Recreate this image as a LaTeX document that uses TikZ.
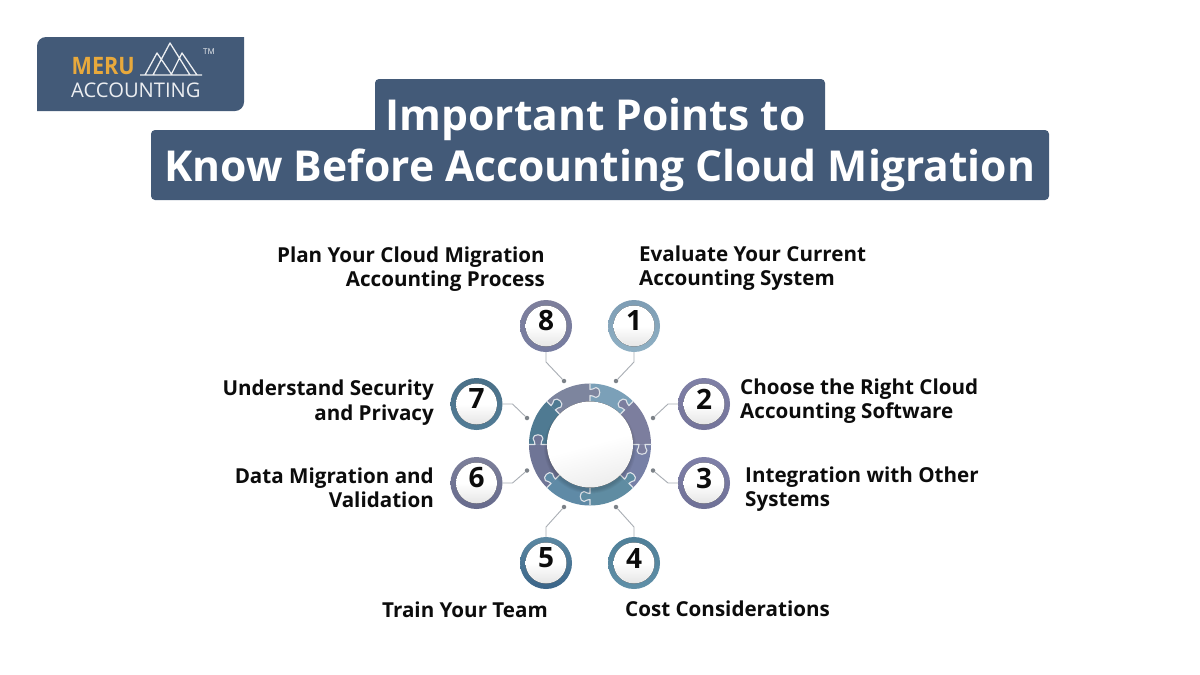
\documentclass[tikz,border=0pt]{standalone}
\usepackage{fontspec}
\setmainfont{Open Sans}
\definecolor{navy}{HTML}{435A78}
\definecolor{orng}{HTML}{E8A93C}
\definecolor{seamc}{HTML}{DDE2E8}
\definecolor{dotc}{HTML}{7C8288}
\definecolor{cona}{HTML}{A9AEB4}
\definecolor{ink}{HTML}{0C0C0C}
\definecolor{segA}{HTML}{7BA0B8}
\definecolor{segB}{HTML}{7C7E9E}
\definecolor{segC}{HTML}{7780A6}
\definecolor{segD}{HTML}{5F8CA2}
\definecolor{segE}{HTML}{5F8AA6}
\definecolor{segF}{HTML}{6F7596}
\definecolor{segG}{HTML}{4F7A92}
\definecolor{segH}{HTML}{7D859E}
\tikzset{
  bubble/.style={circle,minimum size=52pt,inner sep=0pt,line width=0pt},
  numtext/.style={font=\bfseries\fontsize{28}{28}\selectfont,text=ink},
  labeltext/.style={font=\bfseries\fontsize{20.6}{24.5}\selectfont,text=ink,inner sep=0pt},
  titletext/.style={font=\bfseries\fontsize{42.6}{50}\selectfont,text=white,inner sep=0pt},
  dotnode/.style={circle,fill=dotc,minimum size=4.5pt,inner sep=0pt},
  conn/.style={draw=cona,line width=.9pt},
  seam/.style={draw=seamc,line width=1.1pt,line join=round},
}
% #1 number, #2 x, #3 y, #4 top colour, #5 bottom colour
\newcommand{\numbubble}[5]{%
  \definecolor{bubtop}{HTML}{#4}\definecolor{bubbot}{HTML}{#5}%
  \node[bubble,top color=bubtop,bottom color=bubbot] (c#1) at (#2,#3) {};
  \fill[top color=white,bottom color=white!90!black,middle color=white] (#2,#3) circle (20.5);
  \node[numtext] (n#1) at (#2,#3-5) {#1};
}
% #1 start angle, #2 end angle, #3 colour
\newcommand{\ringseg}[3]{%
  \fill[#3] (#1:61) arc[start angle=#1,end angle=#2,radius=61]
     -- (#2:43) arc[start angle=#2,end angle=#1,radius=43] -- cycle;
}
% #1 angle, #2 side (1 ccw, -1 cw), #3 knob colour
\newcommand{\seamtab}[3]{%
  \begin{scope}[rotate=#1,yscale=#2]
    \fill[#3] (49,0) .. controls (50,3) and (47,3.5) .. (47,6) .. controls (47,11) and (57,11) .. (57,6) .. controls (57,3.5) and (54,3) .. (55,0) -- cycle;
    \draw[seam] (43,0) -- (49,0) .. controls (50,3) and (47,3.5) .. (47,6) .. controls (47,11) and (57,11) .. (57,6) .. controls (57,3.5) and (54,3) .. (55,0) -- (61,0);
  \end{scope}
}
\begin{document}
\begin{tikzpicture}[x=1pt,y=-1pt]
\useasboundingbox (0,0) rectangle (1200,675);
\fill[white] (0,0) rectangle (1200,675);

% logo
\fill[navy] (37,111) -- (37,46) .. controls (37,41) and (41,37) .. (46,37) -- (244,37) -- (244,102) .. controls (244,107) and (240,111) .. (235,111) -- cycle;
\node[font=\bfseries\fontsize{24}{24}\selectfont,text=orng,anchor=west,inner sep=0pt,xscale=.9] (meru) at (71.5,66.5) {MERU};
\node[font=\fontsize{20.2}{20}\selectfont,text=white!90!navy,anchor=west,inner sep=0pt] (acct) at (71,90) {ACCOUNTING};
\draw[white!90!navy,line width=1.3pt,line join=round] (140,75) -- (202,75)
  (145,75) -- (157,53) -- (172,75)  (153,75) -- (170,43) -- (190,75) (171,75) -- (182,53) -- (197,75);
\node[font=\fontsize{8}{8}\selectfont,text=white!90!navy,inner sep=0pt] (tm) at (209,52) {TM};

% title
\fill[navy,rounded corners=4pt] (375,79) rectangle (825,140);
\fill[navy,rounded corners=4pt] (151,130) rectangle (1049,200);
\node[titletext] (t1) at (595.5,119) {Important Points to};
\node[titletext] (t2) at (600,170) {Know Before Accounting Cloud Migration};

% ring
\begin{scope}[shift={(590,444.5)},x=1pt,y=1pt]
  \ringseg{90}{45}{segA}
  \ringseg{45}{0}{segB}
  \ringseg{0}{-45}{segC}
  \ringseg{-45}{-90}{segD}
  \ringseg{-90}{-135}{segE}
  \ringseg{-135}{-180}{segF}
  \ringseg{180}{135}{segG}
  \ringseg{135}{90}{segH}
  \seamtab{90}{-1}{segH}
  \seamtab{45}{1}{segB}
  \seamtab{0}{-1}{segB}
  \seamtab{-45}{1}{segD}
  \seamtab{-90}{-1}{segD}
  \seamtab{-135}{-1}{segE}
  \seamtab{180}{-1}{segF}
  \seamtab{135}{-1}{segG}
  \foreach \r in {43,44,45,46}{\fill[black,opacity=.04] (0,-3) circle (\r);}
  \fill[top color=white,bottom color=white!93!black,middle color=white,shading angle=15] (0,0) circle (43);
\end{scope}

% bubbles
\numbubble{1}{634}{326}{7E9DB4}{8FB0C4}
\numbubble{2}{704}{404}{7F80A6}{74749A}
\numbubble{3}{704}{483}{7F80A8}{6E7096}
\numbubble{4}{634}{563}{4F7F98}{6090A8}
\numbubble{5}{546}{563}{5C88A2}{3A6488}
\numbubble{6}{476.5}{483}{7C7F9A}{666A8C}
\numbubble{7}{476.5}{404}{4A7088}{527C96}
\numbubble{8}{546}{326}{7E7F9C}{767CA0}

% end dots
\node[dotnode] (d1) at (616,381) {};
\node[dotnode] (d2) at (653,418) {};
\node[dotnode] (d3) at (653,470.5) {};
\node[dotnode] (d4) at (616,507) {};
\node[dotnode] (d5) at (564,507) {};
\node[dotnode] (d6) at (527,470.5) {};
\node[dotnode] (d7) at (527,418) {};
\node[dotnode] (d8) at (564,381) {};

% connectors
\draw[conn] (c1.south) -- ++(0,10) -- (d1);
\draw[conn] (c2.west) -- ++(-10,0) -- (d2);
\draw[conn] (c3.west) -- ++(-10,0) -- (d3);
\draw[conn] (c4.north) -- ++(0,-10) -- (d4);
\draw[conn] (c5.north) -- ++(0,-10) -- (d5);
\draw[conn] (c6.east) -- ++(10,0) -- (d6);
\draw[conn] (c7.east) -- ++(10,0) -- (d7);
\draw[conn] (c8.south) -- ++(0,10) -- (d8);

% labels
\node[labeltext,align=left,anchor=west] (l1) at (639,268) {Evaluate Your Current\\Accounting System};
\node[labeltext,align=left,anchor=west] (l2) at (740,401) {Choose the Right Cloud\\Accounting Software};
\node[labeltext,align=left,anchor=west] (l3) at (745,489) {Integration with Other\\Systems};
\node[labeltext,align=left,anchor=west] (l4) at (625,609) {Cost Considerations};
\node[labeltext,align=right,anchor=east] (l5) at (548,610) {Train Your Team};
\node[labeltext,align=right,anchor=east] (l6) at (434,488) {Data Migration and\\Validation};
\node[labeltext,align=right,anchor=east] (l7) at (434,402.5) {Understand Security\\and Privacy};
\node[labeltext,align=right,anchor=east] (l8) at (545,269) {Plan Your Cloud Migration\\Accounting Process};
\end{tikzpicture}
\end{document}
